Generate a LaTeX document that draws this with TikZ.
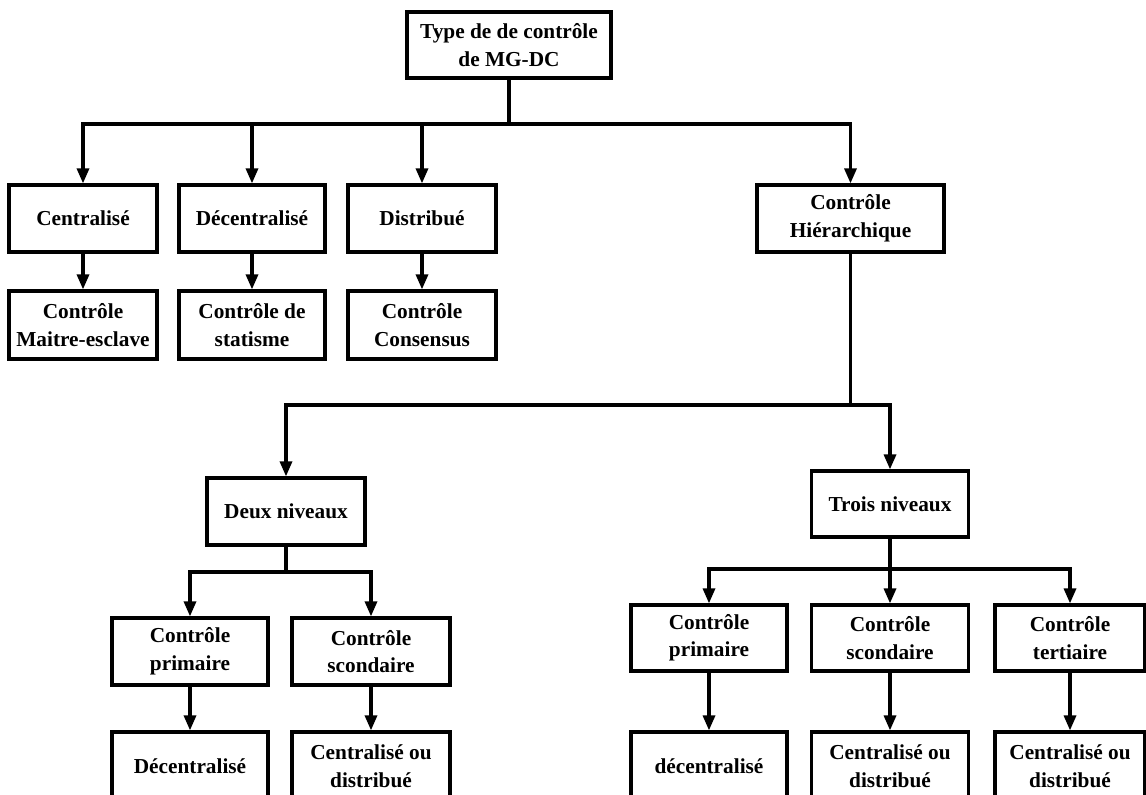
\documentclass[tikz,border=0pt]{standalone}
\usepackage{fontspec}
\setmainfont{Liberation Serif}
\usetikzlibrary{arrows.meta}
\tikzset{
  box/.style n args={2}{draw, line width=3.2pt, minimum width=#1pt, minimum height=#2pt,
    inner sep=0pt, align=center, font=\fontsize{21.3}{27.5}\selectfont\bfseries},
  arr/.style={line width=3.2pt, -{Triangle[length=15pt,width=12pt]}},
  ln/.style={line width=3.2pt}
}
\begin{document}
\begin{tikzpicture}[x=1pt,y=-1pt]
\clip (0,0) rectangle (1146,795);
\fill[white] (0,0) rectangle (1146,795);
% nodes
\node[box={204}{66}] (top) at (509,45) {Type de de contrôle\\de MG-DC};
\node[box={148}{67}] (c1) at (83,218.5) {Centralisé};
\node[box={146}{67}] (c2) at (252,218.5) {Décentralisé};
\node[box={148}{67}] (c3) at (422,218.5) {Distribué};
\node[box={187}{67}] (c4) at (850.5,218.5) {Contrôle\\Hiérarchique};
\node[box={148}{68}] (d1) at (83,325) {Contrôle\\Maitre-esclave};
\node[box={146}{68}] (d2) at (252,325) {Contrôle de\\statisme};
\node[box={148}{68}] (d3) at (422,325) {Contrôle\\Consensus};
\node[box={158}{67}] (deux) at (286,511.5) {Deux niveaux};
\node[box={157}{66}] (trois) at (890,504) {Trois niveaux};
\node[box={156}{67}] (p1) at (190,651.5) {Contrôle\\primaire};
\node[box={158}{67}] (p2) at (371,651.5) {Contrôle\\scondaire};
\node[box={156}{66}] (q1) at (709,638) {Contrôle\\primaire};
\node[box={157}{66}] (q2) at (890,638) {Contrôle\\scondaire};
\node[box={150}{66}] (q3) at (1070,638) {Contrôle\\tertiaire};
\node[box={156}{68}] (r1) at (190,766) {Décentralisé};
\node[box={158}{68}] (r2) at (371,766) {Centralisé ou\\distribué};
\node[box={156}{68}] (s1) at (709,766) {décentralisé};
\node[box={157}{68}] (s2) at (890,766) {Centralisé ou\\distribué};
\node[box={150}{68}] (s3) at (1070,766) {Centralisé ou\\distribué};
% junctions
\coordinate (j1) at (509,124);
\coordinate (j2) at (850.5,405);
\coordinate (j3) at (286,572);
\coordinate (j4) at (890,569);
% connectors
\draw[ln] (top.south) -- (j1);
\foreach \n in {c1,c2,c3,c4} \draw[arr] (j1) -| (\n.north);
\draw[arr] (c1.south) -- (d1.north);
\draw[arr] (c2.south) -- (d2.north);
\draw[arr] (c3.south) -- (d3.north);
\draw[ln] (c4.south) -- (j2);
\draw[arr] (j2) -| (deux.north);
\draw[arr] (j2) -| (trois.north);
\draw[ln] (deux.south) -- (j3);
\draw[arr] (j3) -| (p1.north);
\draw[arr] (j3) -| (p2.north);
\draw[ln] (trois.south) -- (j4);
\draw[arr] (j4) -| (q1.north);
\draw[arr] (j4) -| (q2.north);
\draw[arr] (j4) -| (q3.north);
\draw[arr] (p1.south) -- (r1.north);
\draw[arr] (p2.south) -- (r2.north);
\draw[arr] (q1.south) -- (s1.north);
\draw[arr] (q2.south) -- (s2.north);
\draw[arr] (q3.south) -- (s3.north);
\end{tikzpicture}
\end{document}
